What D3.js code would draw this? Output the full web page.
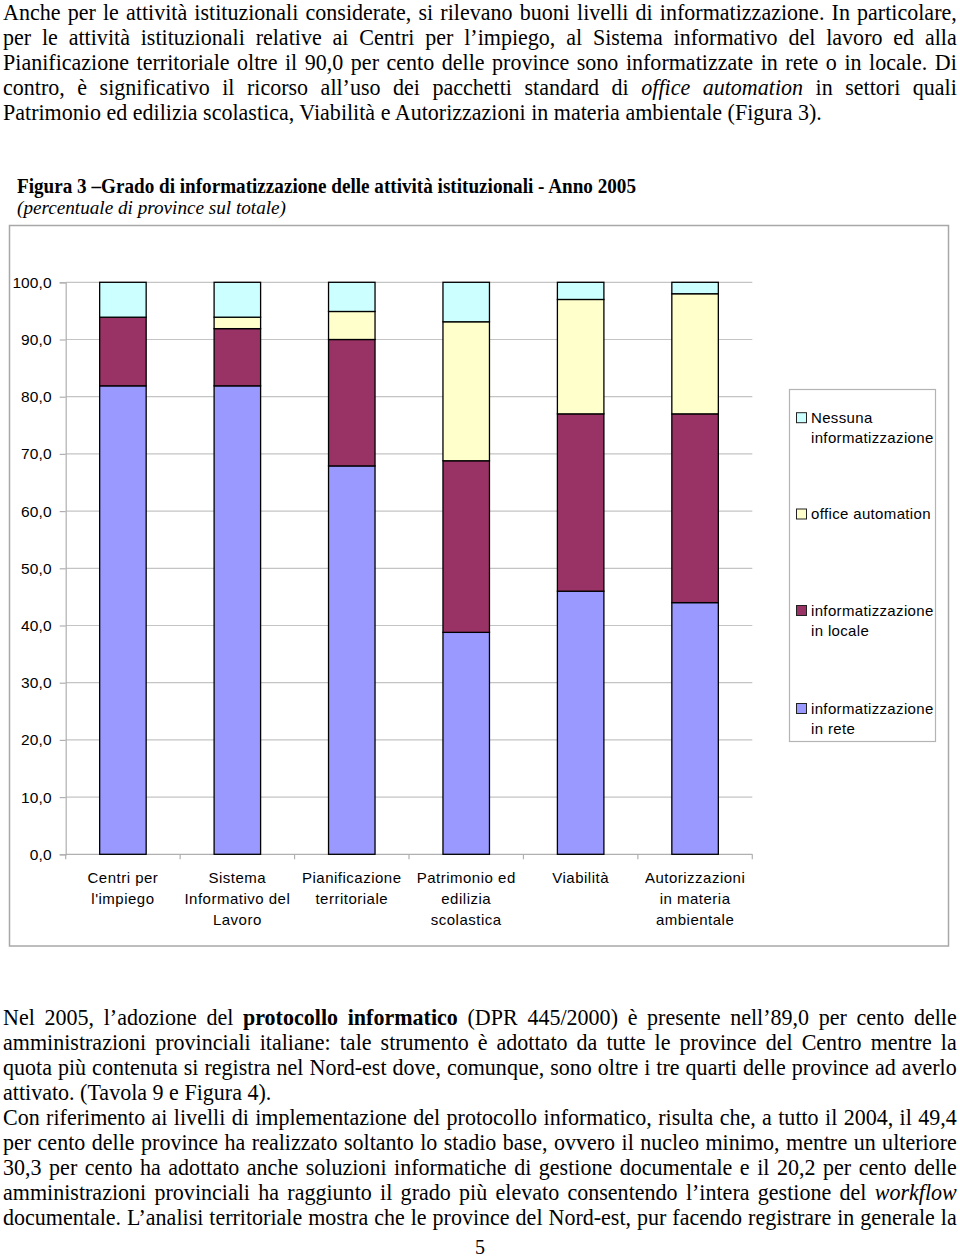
<!DOCTYPE html>
<html>
<head>
<meta charset="utf-8">
<script src="https://cdn.jsdelivr.net/npm/d3@7"></script>
<style>
  html, body { margin: 0; padding: 0; background: #fff; }
  svg { display: block; }
</style>
</head>
<body>
<svg id="page" width="960" height="1259"></svg>
<script>
// ---------------- DATA ----------------
const categories = ["Centri per l'impiego", "Sistema Informativo del Lavoro", "Pianificazione territoriale",
  "Patrimonio ed edilizia scolastica", "Viabilità", "Autorizzazioni in materia ambientale"];
const categoryLines = [["Centri per", "l'impiego"], ["Sistema", "Informativo del", "Lavoro"],
  ["Pianificazione", "territoriale"], ["Patrimonio ed", "edilizia", "scolastica"],
  ["Viabilità"], ["Autorizzazioni", "in materia", "ambientale"]];
const seriesNames = ["informatizzazione in rete", "informatizzazione in locale", "office automation", "Nessuna informatizzazione"];
const inRete   = [81.9, 81.9, 67.9, 38.8, 46.0, 44.0];
const inLocale = [12.0, 10.0, 22.1, 30.0, 31.0, 33.0];
const officeAutomation = [0.0, 2.0, 4.9, 24.3, 20.0, 21.0];
const nessuna  = [6.1, 6.1, 5.1, 6.9, 3.0, 2.0];
const yTicks = [0, 10, 20, 30, 40, 50, 60, 70, 80, 90, 100];
const seriesColors = ["#9999ff", "#993366", "#ffffcc", "#ccffff"];
const legendLines = [["Nessuna", "informatizzazione"], ["office automation"], ["informatizzazione", "in locale"], ["informatizzazione", "in rete"]];
const legendColorIdx = [3, 2, 1, 0];

const para1 = [
  [["Anche per le attività istituzionali considerate, si rilevano buoni livelli di informatizzazione. In particolare,"]],
  [["per le attività istituzionali relative ai Centri per l’impiego, al Sistema informativo del lavoro ed alla"]],
  [["Pianificazione territoriale oltre il 90,0 per cento delle province sono informatizzate in rete o in locale. Di"]],
  [["contro, è significativo il ricorso all’uso dei pacchetti standard di "], ["office automation", "i"], [" in settori quali"]],
  [["Patrimonio ed edilizia scolastica, Viabilità e Autorizzazioni in materia ambientale (Figura 3)."]]
];
const para1Last = [false, false, false, false, true];
const para2 = [
  [["Nel 2005, l’adozione del "], ["protocollo informatico", "b"], [" (DPR 445/2000) è presente nell’89,0 per cento delle"]],
  [["amministrazioni provinciali italiane: tale strumento è adottato da tutte le province del Centro mentre la"]],
  [["quota più contenuta si registra nel Nord-est dove, comunque, sono oltre i tre quarti delle province ad averlo"]],
  [["attivato. (Tavola 9 e Figura 4)."]],
  [["Con riferimento ai livelli di implementazione del protocollo informatico, risulta che, a tutto il 2004, il 49,4"]],
  [["per cento delle province ha realizzato soltanto lo stadio base, ovvero il nucleo minimo, mentre un ulteriore"]],
  [["30,3 per cento ha adottato anche soluzioni informatiche di gestione documentale e il 20,2 per cento delle"]],
  [["amministrazioni provinciali ha raggiunto il grado più elevato consentendo l’intera gestione del "], ["workflow", "i"]],
  [["documentale. L’analisi territoriale mostra che le province del Nord-est, pur facendo registrare in generale la"]]
];
const para2Last = [false, false, false, true, false, false, false, false, false];

// ---------------- PAGE ----------------
const svg = d3.select("#page");
svg.append("rect").attr("width", 960).attr("height", 1259).attr("fill", "#fff");

const SERIF = "'Liberation Serif', 'Times New Roman', serif";
const SANS = "'Liberation Sans', Arial, sans-serif";
const bodySize = 22.5;

function makeLine(parts, y) {
  const t = svg.append("text")
    .attr("y", y)
    .attr("font-family", SERIF)
    .attr("font-size", bodySize)
    .attr("fill", "#000")
    .style("white-space", "pre");
  parts.forEach(p => {
    const ts = t.append("tspan").text(p[0]);
    if (p[1] === "b") ts.attr("font-weight", "bold");
    if (p[1] === "i") ts.attr("font-style", "italic");
  });
  return t;
}

const X0 = 3, X1 = 957;
// horizontal condensation taken from the unjustified last line of paragraph 1
const probe = makeLine(para1[4], -100);
const sx = 819 / probe.node().getComputedTextLength();
probe.remove();

function drawParagraph(lines, lastFlags, y0) {
  lines.forEach((parts, i) => {
    const y = y0 + i * 25;
    const t = makeLine(parts, y);
    const w = t.node().getComputedTextLength();
    let s = sx;
    if (!lastFlags[i]) {
      const txt = parts.map(p => p[0]).join("");
      const nSp = (txt.match(/ /g) || []).length;
      let extra = ((X1 - X0) / s - w) / nSp;
      if (extra < 0) { s = (X1 - X0) / w; extra = 0; }
      t.attr("word-spacing", extra);
    }
    t.attr("transform", `translate(${X0},0) scale(${s},1)`);
  });
}
drawParagraph(para1, para1Last, 20);
drawParagraph(para2, para2Last, 1025);

svg.append("text").attr("x", 480).attr("y", 1254).attr("text-anchor", "middle")
  .attr("font-family", SERIF).attr("font-size", 20).text("5");

// chart title
svg.append("text").attr("x", 17).attr("y", 193).attr("font-family", SERIF).attr("font-size", 20)
  .attr("font-weight", "bold").attr("textLength", 619).attr("lengthAdjust", "spacingAndGlyphs")
  .text("Figura 3 –Grado di informatizzazione delle attività istituzionali - Anno 2005");
svg.append("text").attr("x", 17).attr("y", 214).attr("font-family", SERIF).attr("font-size", 19)
  .attr("font-style", "italic").attr("textLength", 269).attr("lengthAdjust", "spacingAndGlyphs")
  .text("(percentuale di province sul totale)");

// chart frame
svg.append("rect").attr("x", 9.5).attr("y", 225.5).attr("width", 939).attr("height", 720.5)
  .attr("fill", "#fff").attr("stroke", "#a8a8a8").attr("stroke-width", 1.5);

// ---------------- CHART ----------------
const plotLeft = 65.7, plotRight = 752.3, yTop = 282.3, yBottom = 854.3;
const barFrac = 46.5 / ((plotRight - plotLeft) / categories.length);
const x = d3.scaleBand().domain(categories).range([plotLeft, plotRight])
  .paddingInner(1 - barFrac).paddingOuter((1 - barFrac) / 2);
const y = d3.scaleLinear().domain([0, 100]).range([yBottom, yTop]);

const g = svg.append("g");

// gridlines
g.append("g").selectAll("line").data(yTicks.filter(d => d > 0)).join("line")
  .attr("x1", plotLeft).attr("x2", plotRight)
  .attr("y1", d => y(d)).attr("y2", d => y(d))
  .attr("stroke", "#c4c4c4").attr("stroke-width", 1.2);

// y axis
const yAxis = d3.axisLeft(y).tickValues(yTicks).tickSize(6).tickPadding(8)
  .tickFormat(d => d3.format(".1f")(d).replace(".", ","));
const yg = g.append("g").attr("transform", `translate(${plotLeft},0)`).call(yAxis);
yg.select(".domain").attr("stroke", "#b0b0b0").attr("stroke-width", 1.2);
yg.selectAll(".tick line").attr("stroke", "#b0b0b0").attr("stroke-width", 1.2);
yg.selectAll(".tick text").attr("font-family", SANS).attr("font-size", 15.5).attr("fill", "#000")
  .attr("letter-spacing", 0.1);

// x axis
const xg = g.append("g").attr("transform", `translate(0,${yBottom})`);
xg.append("line").attr("x1", plotLeft).attr("x2", plotRight).attr("stroke", "#b0b0b0").attr("stroke-width", 1.2);
const step = x.step();
xg.selectAll("line.tk").data(d3.range(categories.length + 1)).join("line").attr("class", "tk")
  .attr("x1", i => plotLeft + i * step).attr("x2", i => plotLeft + i * step)
  .attr("y1", 0).attr("y2", 5).attr("stroke", "#b0b0b0").attr("stroke-width", 1.2);

// category labels
categories.forEach((c, i) => {
  const cx = x(c) + x.bandwidth() / 2;
  const t = svg.append("text").attr("text-anchor", "middle").attr("font-family", SANS)
    .attr("font-size", 15).attr("letter-spacing", 0.5).attr("fill", "#000");
  categoryLines[i].forEach((ln, j) => {
    t.append("tspan").attr("x", cx).attr("y", 883 + j * 21.2).text(ln);
  });
});

// stacked bars
const rows = categories.map((c, i) => ({
  cat: c, s0: inRete[i], s1: inLocale[i], s2: officeAutomation[i], s3: nessuna[i]
}));
const stack = d3.stack().keys(["s0", "s1", "s2", "s3"])(rows);
const bars = svg.append("g");
stack.forEach((layer, k) => {
  bars.append("g").selectAll("rect").data(layer.filter(d => d[1] - d[0] > 0)).join("rect")
    .attr("x", d => x(d.data.cat))
    .attr("width", x.bandwidth())
    .attr("y", d => y(d[1]))
    .attr("height", d => y(d[0]) - y(d[1]))
    .attr("fill", seriesColors[k])
    .attr("stroke", "#000").attr("stroke-width", 1.3);
});

// legend
svg.append("rect").attr("x", 789.5).attr("y", 389.5).attr("width", 146).attr("height", 352)
  .attr("fill", "#fff").attr("stroke", "#b4b4b4").attr("stroke-width", 1.2);
const legendY = [417.7, 514, 610.5, 708.5];
legendLines.forEach((lines, i) => {
  const ly = legendY[i];
  svg.append("rect").attr("x", 796.5).attr("y", ly - 5).attr("width", 10).attr("height", 10)
    .attr("fill", seriesColors[legendColorIdx[i]]).attr("stroke", "#222").attr("stroke-width", 1);
  const t = svg.append("text").attr("font-family", SANS).attr("font-size", 15)
    .attr("letter-spacing", 0.35).attr("fill", "#000");
  lines.forEach((ln, j) => {
    t.append("tspan").attr("x", 811).attr("y", ly + 5 + j * 20).text(ln);
  });
});
</script>
</body>
</html>
